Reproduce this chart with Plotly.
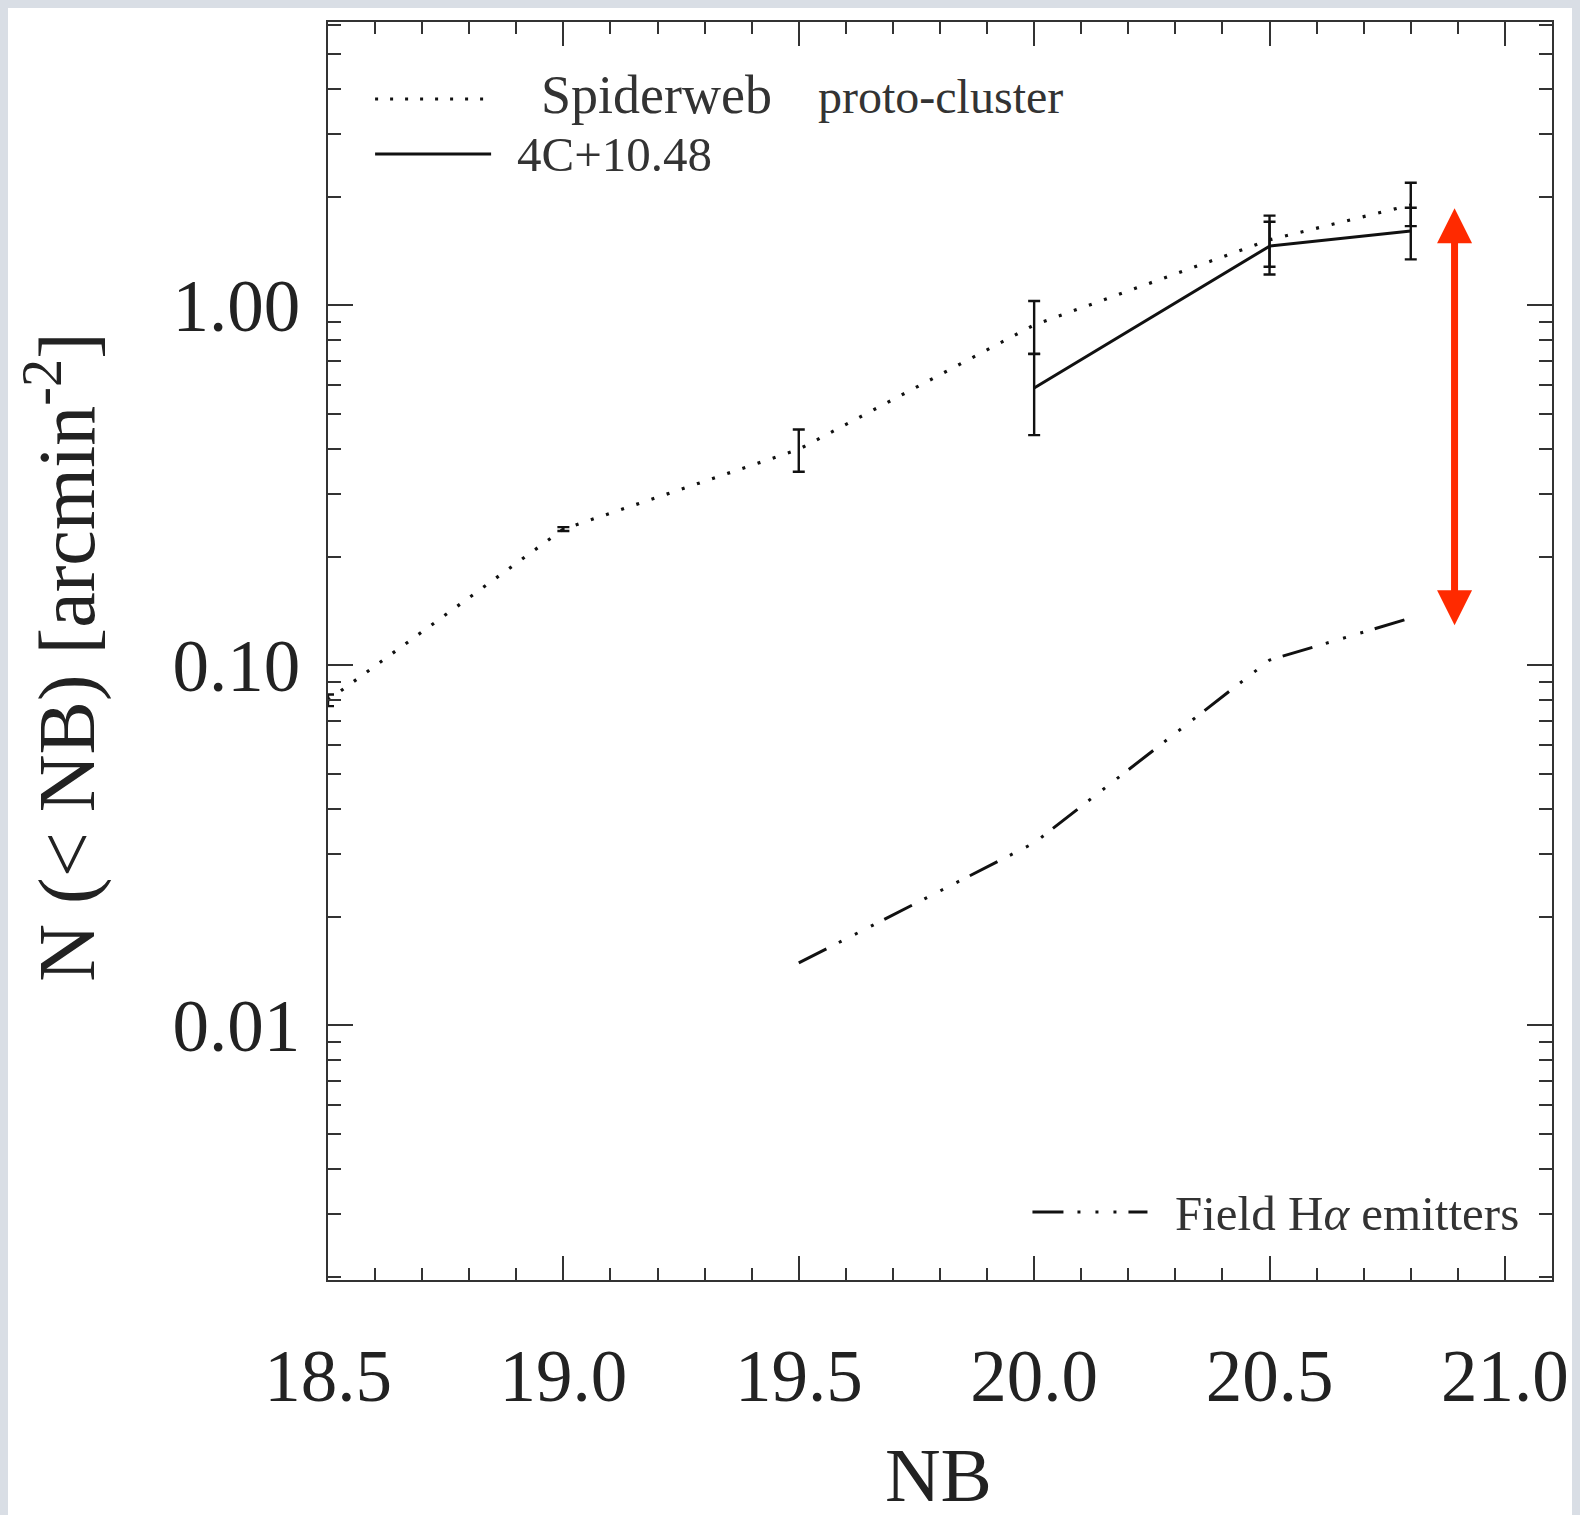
import math
import plotly.graph_objects as go

# ---------------- data ----------------
nb_spider = [18.5, 19.0, 19.5, 20.0, 20.5, 20.8]
n_spider = [0.080, 0.239, 0.398, 0.882, 1.52, 1.90]
err_spider_plus = [0.003, 0.003, 0.054, 0.146, 0.255, 0.29]
err_spider_minus = [0.003, 0.003, 0.053, 0.148, 0.24, 0.24]

nb_4c = [20.0, 20.5, 20.8]
n_4c = [0.589, 1.46, 1.608]
err_4c_plus = [0.143, 0.246, 0.259]
err_4c_minus = [0.153, 0.242, 0.266]

nb_field = [19.5, 20.0, 20.5, 20.8]
n_field = [0.0149, 0.0321, 0.1034, 0.1353]

x_tickvals = [18.5, 19.0, 19.5, 20.0, 20.5, 21.0]
x_ticktext = ["18.5", "19.0", "19.5", "20.0", "20.5", "21.0"]
y_tickvals = [0.01, 0.1, 1.0]
y_ticktext = ["0.01", "0.10", "1.00"]

arrow_nb = 20.893
arrow_top = 1.86
arrow_bottom = 0.128

# ---------------- geometry / style ----------------
# the page body keeps an 8px margin, so the figure starts at (8, 8)
OFF = 8
W, H = 1580 - OFF, 1515 - OFF
PLOT_L, PLOT_R, PLOT_T, PLOT_B = 327.5, 1562, 22, 1280   # page pixels
ML = PLOT_L - OFF
MT = PLOT_T - OFF
MR = 1580 - PLOT_R
MB = 1515 - PLOT_B
PW = PLOT_R - PLOT_L
PH = PLOT_B - PLOT_T
SERIF = "Liberation Serif"
INK = "#111111"
TXT = "#222222"
LEG = "#333333"
FRAME = "#d9dee5"


def px(x):
    return (x - PLOT_L) / PW


def py(y):
    return (PLOT_B - y) / PH


fig = go.Figure()

fig.add_trace(go.Scatter(
    x=nb_spider, y=n_spider, mode="lines",
    line=dict(color=INK, width=3.2, dash="3px,13px"),
    error_y=dict(type="data", array=err_spider_plus, arrayminus=err_spider_minus,
                 color=INK, thickness=2.4, width=6),
    showlegend=False, hoverinfo="skip"))

fig.add_trace(go.Scatter(
    x=nb_4c, y=n_4c, mode="lines",
    line=dict(color=INK, width=3),
    error_y=dict(type="data", array=err_4c_plus, arrayminus=err_4c_minus,
                 color=INK, thickness=2.4, width=6),
    showlegend=False, hoverinfo="skip"))

FIELD_DASH = "31px,14px,3px,15px,3px,15px,3px,12px"
fig.add_trace(go.Scatter(
    x=nb_field, y=n_field, mode="lines",
    line=dict(color=INK, width=3, dash=FIELD_DASH),
    showlegend=False, hoverinfo="skip"))

# minor ticks for log axis
y_minor = [k * 10 ** e for e in (-3, -2, -1, 0) for k in range(2, 10)]

fig.update_layout(
    width=W, height=H, autosize=False,
    margin=dict(l=ML, r=MR, t=MT, b=MB, pad=0),
    paper_bgcolor="white",
    plot_bgcolor="white",
    font=dict(family=SERIF, color=TXT),
    showlegend=False,
    xaxis=dict(
        range=[18.5, 21.1], showgrid=False, zeroline=False,
        showline=True, linecolor="#333333", linewidth=2.2, mirror="ticks",
        ticks="inside", ticklen=24, tickwidth=2, tickcolor="#333333",
        tickmode="array", tickvals=x_tickvals, ticktext=x_ticktext,
        tickfont=dict(family=SERIF, size=73, color=TXT),
        ticklabelstandoff=31, ticklabeloverflow="allow",
        minor=dict(ticks="inside", ticklen=12, tickwidth=2, tickcolor="#333333",
                   dtick=0.1, tick0=18.5),
    ),
    yaxis=dict(
        type="log", range=[-2.7075, 0.787], showgrid=False, zeroline=False,
        showline=True, linecolor="#333333", linewidth=2.2, mirror="ticks",
        ticks="inside", ticklen=25, tickwidth=2, tickcolor="#333333",
        tickmode="array", tickvals=y_tickvals, ticktext=y_ticktext,
        tickfont=dict(family=SERIF, size=73, color=TXT),
        ticklabelstandoff=11,
        minor=dict(ticks="inside", ticklen=13, tickwidth=2, tickcolor="#333333",
                   tickmode="array", tickvals=y_minor),
    ),
)

# axis titles
fig.add_annotation(xref="paper", yref="paper", x=px(59), y=py(657),
                   text="N (&lt; NB) [arcmin<sup>-2</sup>]", textangle=-90,
                   showarrow=False, xanchor="center", yanchor="middle",
                   font=dict(family=SERIF, size=80, color=TXT))
fig.add_annotation(xref="paper", yref="paper", x=px(943), y=py(1475),
                   text="NB", showarrow=False, xanchor="center", yanchor="middle",
                   font=dict(family=SERIF, size=77, color=TXT))

# legend samples
fig.add_shape(type="line", xref="paper", yref="paper",
              x0=px(375), x1=px(494), y0=py(99), y1=py(99),
              line=dict(color=INK, width=3.2, dash="3px,12px"))
fig.add_shape(type="line", xref="paper", yref="paper",
              x0=px(375), x1=px(492), y0=py(154), y1=py(154),
              line=dict(color=INK, width=3))
fig.add_shape(type="line", xref="paper", yref="paper",
              x0=px(1038), x1=px(1154), y0=py(1212), y1=py(1212),
              line=dict(color=INK, width=3, dash=FIELD_DASH))

fig.add_annotation(xref="paper", yref="paper", x=px(540), y=py(95),
                   text="Spiderweb", showarrow=False, xanchor="left", yanchor="middle",
                   font=dict(family=SERIF, size=54, color=LEG))
fig.add_annotation(xref="paper", yref="paper", x=px(820), y=py(97),
                   text="proto-cluster", showarrow=False, xanchor="left", yanchor="middle",
                   font=dict(family=SERIF, size=48, color=LEG))
fig.add_annotation(xref="paper", yref="paper", x=px(516), y=py(155),
                   text="4C+10.48", showarrow=False, xanchor="left", yanchor="middle",
                   font=dict(family=SERIF, size=49, color=LEG))
fig.add_annotation(xref="paper", yref="paper", x=px(1180), y=py(1213),
                   text="Field H<i>α</i> emitters", showarrow=False,
                   xanchor="left", yanchor="middle",
                   font=dict(family=SERIF, size=49, color=LEG))

# red double arrow
fig.add_annotation(x=arrow_nb, y=math.log10(arrow_top), xref="x", yref="y",
                   ax=arrow_nb, ay=math.log10(arrow_bottom), axref="x", ayref="y",
                   text="", showarrow=True, arrowside="end+start",
                   arrowhead=2, startarrowhead=2, arrowsize=1.0, startarrowsize=1.0,
                   arrowwidth=7, arrowcolor="#ff2a00", standoff=0, startstandoff=0)

fig.write_html("out.html",
               config={"responsive": False},
               post_script="document.body.style.background='%s';" % FRAME)
